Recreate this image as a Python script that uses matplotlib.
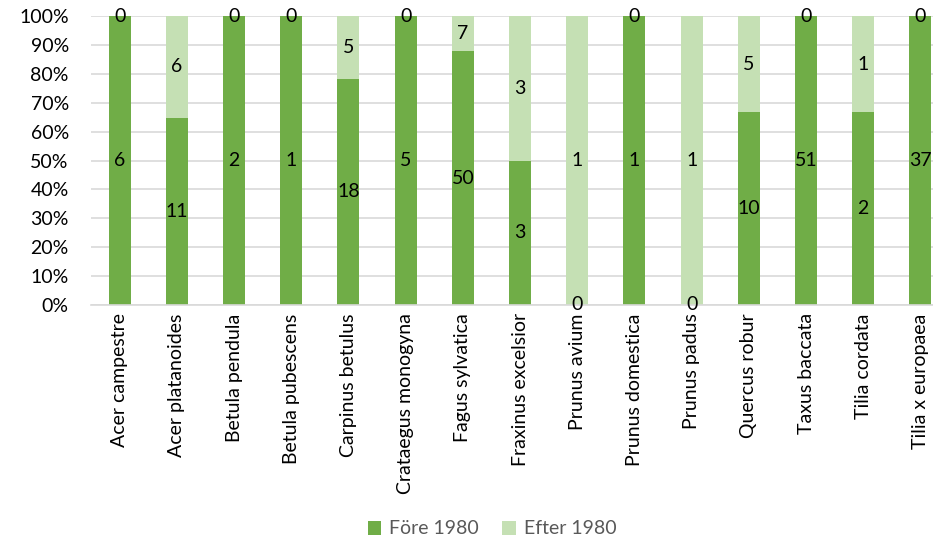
import matplotlib
matplotlib.use("Agg")
import matplotlib.pyplot as plt
import numpy as np
from matplotlib.ticker import FuncFormatter

plt.rcParams['font.family'] = ['Lato', 'DejaVu Sans']

species = ["Acer campestre", "Acer platanoides", "Betula pendula", "Betula pubescens",
           "Carpinus betulus", "Crataegus monogyna", "Fagus sylvatica", "Fraxinus excelsior",
           "Prunus avium", "Prunus domestica", "Prunus padus", "Quercus robur",
           "Taxus baccata", "Tilia cordata", "Tilia x europaea"]
fore_1980 = [6, 11, 2, 1, 18, 5, 50, 3, 0, 1, 0, 10, 51, 2, 37]
efter_1980 = [0, 6, 0, 0, 5, 0, 7, 3, 1, 0, 1, 5, 0, 1, 0]
series_names = ["Före 1980", "Efter 1980"]

c_dark = "#70AD47"
c_light = "#C5E0B4"
fs = 14

W, H = 933, 543
fig = plt.figure(figsize=(W / 100, H / 100), dpi=100)
ax = fig.add_axes([91 / W, 238 / H, 858 / W, 289 / H])

fore = np.array(fore_1980, dtype=float)
efter = np.array(efter_1980, dtype=float)
total = fore + efter
p_fore = fore / total
p_efter = efter / total
x = np.arange(len(species))
bw = 0.385

ax.bar(x, p_fore, bw, color=c_dark, label=series_names[0], zorder=2)
ax.bar(x, p_efter, bw, bottom=p_fore, color=c_light, label=series_names[1], zorder=2)

for i in range(len(species)):
    ax.text(x[i], p_fore[i] / 2, f"{int(fore[i])}", ha="center", va="center",
            fontsize=fs, color="black", zorder=3)
    ax.text(x[i], p_fore[i] + p_efter[i] / 2, f"{int(efter[i])}", ha="center", va="center",
            fontsize=fs, color="black", zorder=3)

ax.set_xlim(-0.5, len(species) - 0.5)
ax.set_ylim(0, 1)
ax.set_yticks(np.arange(0, 1.01, 0.1))
ax.yaxis.set_major_formatter(FuncFormatter(lambda v, p: f"{v * 100:.0f}%"))
ax.grid(axis="y", color="#D9D9D9", linewidth=1.2, zorder=0)
ax.set_axisbelow(True)
for s in ["top", "right", "left"]:
    ax.spines[s].set_visible(False)
ax.spines["bottom"].set_color("#D9D9D9")
ax.spines["bottom"].set_linewidth(1.2)
ax.tick_params(axis="both", length=0, labelsize=fs, colors="black")
ax.tick_params(axis="y", pad=16)
ax.tick_params(axis="x", pad=6)
ax.set_xticks(x)
ax.set_xticklabels(species, rotation=90, va="top", ha="center")

fig.legend(loc="center", bbox_to_anchor=(492 / W, 1 - 529 / H), ncol=2, frameon=False,
           fontsize=fs, handlelength=0.7, handleheight=0.7, handletextpad=0.4,
           columnspacing=1.2, labelcolor="#595959")

fig.savefig("out.png", dpi=100)
